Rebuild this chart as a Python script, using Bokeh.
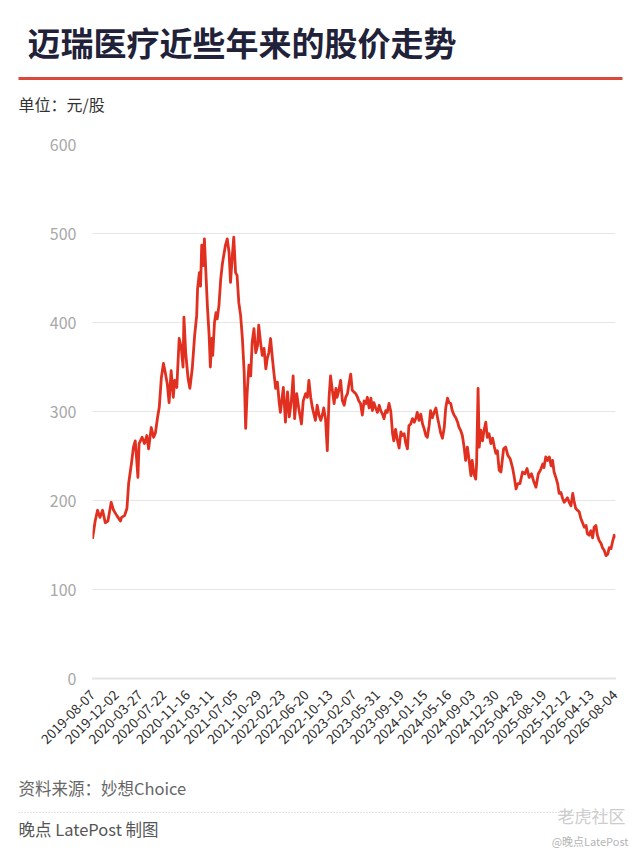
import math
from bokeh.plotting import figure
from bokeh.layouts import column
from bokeh.models import Range1d, FixedTicker
from bokeh.core.properties import value
from bokeh.embed import file_html
from bokeh.resources import INLINE

# ---------------- data ----------------
title_text = "迈瑞医疗近些年来的股价走势"
unit_text = "单位：元/股"
source_text = "资料来源：妙想Choice"
credit_text = "晚点 LatePost 制图"

date_labels = [
    "2019-08-07", "2019-12-02", "2020-03-27", "2020-07-22", "2020-11-16",
    "2021-03-11", "2021-07-05", "2021-10-29", "2022-02-23", "2022-06-20",
    "2022-10-13", "2023-02-07", "2023-05-31", "2023-09-19", "2024-01-15",
    "2024-05-16", "2024-09-03", "2024-12-30", "2025-04-28", "2025-08-19",
    "2025-12-12", "2026-04-13", "2026-08-04",
]
label_step = 80  # trading days between labelled dates

y_ticks = [0, 100, 200, 300, 400, 500, 600]

# trading-day index of each sampled point
day_idx = [
    0, 9, 17, 25, 34, 43, 52, 63, 71, 82, 94, 98, 108, 116, 122, 131, 138, 144, 149, 153,
    157, 167, 175, 183, 189, 198, 206, 212, 219, 225, 232, 239, 245, 252, 258, 265, 272, 277, 284, 292,
    299, 305, 308, 314, 322, 328, 336, 344, 351, 354, 360, 364, 368, 373, 377, 382, 387, 393, 397, 402,
    405, 411, 416, 420, 426, 432, 438, 442, 448, 454, 460, 465, 471, 476, 482, 487, 493, 499, 505, 511,
    516, 521, 527, 533, 538, 544, 550, 556, 560, 566, 572, 578, 584, 589, 594, 600, 606, 611, 617, 623,
    629, 633, 643, 650, 657, 663, 670, 676, 681, 688, 696, 704, 710, 718, 724, 729, 735, 741, 746, 751,
    757, 763, 769, 775, 779, 785, 791, 797, 802, 808, 814, 820, 824, 830, 836, 842, 848, 853, 859, 864,
    870, 875, 881, 887, 893, 897, 903, 909, 915, 921, 926, 932, 938, 943, 948, 954, 960, 966, 971, 977,
    982, 988, 993, 999, 1005, 1011, 1015, 1021, 1027, 1033, 1039, 1044, 1050, 1055, 1061, 1066, 1072, 1078, 1084, 1090,
    1094, 1100, 1106, 1112, 1117, 1123, 1128, 1134, 1139, 1145, 1151, 1157, 1163, 1167, 1173, 1179, 1185, 1190, 1196, 1201,
    1207, 1212, 1218, 1224, 1230, 1235, 1240, 1246, 1252, 1257, 1263, 1269, 1275, 1279, 1285, 1291, 1294, 1299, 1303, 1308,
    1314, 1319, 1325, 1330, 1336, 1342, 1348, 1354, 1359, 1364, 1370, 1376, 1385, 1392, 1399, 1407, 1415, 1421, 1427, 1433,
    1440, 1449, 1457, 1464, 1471, 1479, 1486, 1494, 1502, 1509, 1517, 1521, 1527, 1533, 1539, 1545, 1550, 1555, 1561, 1567,
    1572, 1578, 1584, 1589, 1594, 1600, 1606, 1612, 1618, 1622, 1628, 1634, 1640, 1645, 1651, 1657, 1663, 1667, 1673, 1679,
    1685, 1690, 1696, 1701, 1707, 1713, 1718, 1724, 1730, 1736, 1741, 1747, 1753, 1758, 1760,
]

# closing price, 元/股
price = [
    157, 177, 189, 181, 189, 175, 177, 198, 189, 183, 177, 181, 183, 191, 220, 241, 260, 267, 245, 226,
    264, 271, 264, 273, 258, 282, 271, 276, 293, 305, 338, 354, 344, 331, 310, 346, 316, 335, 327, 382,
    372, 350, 406, 366, 337, 326, 348, 385, 408, 438, 456, 441, 487, 464, 494, 456, 419, 385, 350, 382,
    363, 400, 411, 404, 419, 449, 467, 475, 487, 494, 479, 445, 475, 496, 456, 453, 422, 408, 382, 344,
    281, 321, 352, 340, 378, 393, 366, 374, 397, 378, 363, 371, 348, 360, 366, 382, 360, 344, 326, 333,
    310, 299, 327, 288, 322, 294, 312, 340, 292, 320, 301, 286, 312, 320, 316, 335, 316, 304, 297, 290,
    307, 296, 290, 297, 304, 292, 256, 316, 340, 324, 309, 326, 316, 324, 335, 312, 307, 316, 320, 331,
    342, 324, 322, 320, 316, 312, 309, 296, 312, 309, 316, 304, 315, 301, 310, 304, 299, 307, 301, 297,
    292, 301, 299, 309, 300, 275, 267, 280, 268, 259, 277, 273, 275, 265, 258, 284, 286, 292, 288, 293,
    299, 290, 297, 286, 281, 273, 271, 284, 301, 293, 299, 304, 292, 286, 276, 270, 282, 304, 315, 310,
    309, 301, 296, 293, 288, 282, 279, 273, 260, 245, 260, 245, 228, 245, 230, 224, 241, 326, 260, 279,
    267, 279, 288, 271, 275, 264, 270, 260, 253, 256, 234, 232, 258, 260, 251, 247, 237, 226, 213, 219,
    219, 232, 230, 236, 226, 230, 222, 215, 230, 234, 241, 237, 249, 245, 249, 239, 245, 232, 226, 219,
    208, 209, 202, 198, 200, 203, 198, 194, 208, 200, 191, 189, 187, 180, 175, 170, 172, 163, 161, 166,
    158, 170, 172, 161, 155, 152, 147, 144, 138, 140, 147, 146, 155, 161, 158,
]

CJK = "Noto Sans CJK SC"
W = 640


def no_frame_align(fig):
    if "frame_align" in fig.properties():
        fig.frame_align = False


# ---------------- header ----------------
HEAD_H = 120
head = figure(width=W, height=HEAD_H, x_range=Range1d(0, W), y_range=Range1d(HEAD_H, 0),
              output_backend="svg", toolbar_location=None, min_border=0,
              min_border_left=0, min_border_right=0, min_border_top=0, min_border_bottom=0,
              x_axis_location=None, y_axis_location=None, outline_line_color=None)
no_frame_align(head)
head.grid.visible = False
head.text(x=[27], y=[41], text=[title_text], text_font=value(CJK), text_font_size="33px",
          text_font_style="bold", text_color="#1f2238", text_baseline="middle", text_align="left")
head.segment(x0=[18], y0=[78], x1=[622], y1=[78], line_color="#d9483b", line_width=3)
head.text(x=[18], y=[103], text=[unit_text], text_font=value(CJK), text_font_size="16px",
          text_color="#333333", text_baseline="middle", text_align="left")

# ---------------- main chart ----------------
MAIN_H = 650
p = figure(width=W, height=MAIN_H, x_range=Range1d(0, 1762), y_range=Range1d(0, 600),
           output_backend="svg", toolbar_location=None,
           min_border_left=92, min_border_right=25, min_border_top=24, min_border_bottom=92,
           outline_line_color=None)
no_frame_align(p)
p.line(day_idx, price, line_color="#e1301f", line_width=2.8, line_join="round")

tick_pos = [i * label_step for i in range(len(date_labels))]
p.xaxis.ticker = FixedTicker(ticks=tick_pos)
p.xaxis.major_label_overrides = {t: lab for t, lab in zip(tick_pos, date_labels)}
p.xaxis.major_label_orientation = math.pi / 4
p.xaxis.major_label_text_font = CJK
p.xaxis.major_label_text_font_size = "13.5px"
p.xaxis.major_label_text_color = "#2b2b2b"
p.xaxis.major_label_standoff = 8
p.xaxis.axis_line_color = "#c8c8c8"
p.xaxis.axis_line_dash = "1 1"
p.xaxis.axis_line_width = 2
p.xaxis.major_tick_line_color = None
p.xaxis.minor_tick_line_color = None
p.xgrid.visible = False

p.yaxis.ticker = FixedTicker(ticks=y_ticks)
p.yaxis.axis_line_color = None
p.yaxis.major_tick_line_color = None
p.yaxis.minor_tick_line_color = None
p.yaxis.major_label_text_font = CJK
p.yaxis.major_label_text_font_size = "16px"
p.yaxis.major_label_text_color = "#a8a8a8"
p.yaxis.major_label_standoff = 10
p.ygrid.grid_line_color = "#e6e6e6"
p.ygrid.grid_line_width = 1

# ---------------- footer ----------------
FOOT_H = 83
foot = figure(width=W, height=FOOT_H, x_range=Range1d(0, W), y_range=Range1d(FOOT_H, 0),
              output_backend="svg", toolbar_location=None, min_border=0,
              min_border_left=0, min_border_right=0, min_border_top=0, min_border_bottom=0,
              x_axis_location=None, y_axis_location=None, outline_line_color=None)
no_frame_align(foot)
foot.grid.visible = False
foot.text(x=[18], y=[17], text=[source_text], text_font=value(CJK), text_font_size="16.5px",
          text_color="#666666", text_baseline="middle", text_align="left")
foot.segment(x0=[18], y0=[42], x1=[622], y1=[42], line_color="#c4c4c4", line_width=1, line_dash="1 2")
foot.text(x=[18], y=[58], text=[credit_text], text_font=value(CJK), text_font_size="16.5px",
          text_color="#555555", text_baseline="middle", text_align="left")
foot.text(x=[625], y=[45], text=["老虎社区"], text_font=value(CJK), text_font_size="17px",
          text_color="#cdcdcd", text_baseline="middle", text_align="right")
foot.text(x=[628], y=[70], text=["@晚点LatePost"], text_font=value(CJK), text_font_size="11px",
          text_color="#b5b5b5", text_baseline="middle", text_align="right")

layout = column(head, p, foot, spacing=0)
open("out.html", "w").write(file_html(layout, INLINE))
